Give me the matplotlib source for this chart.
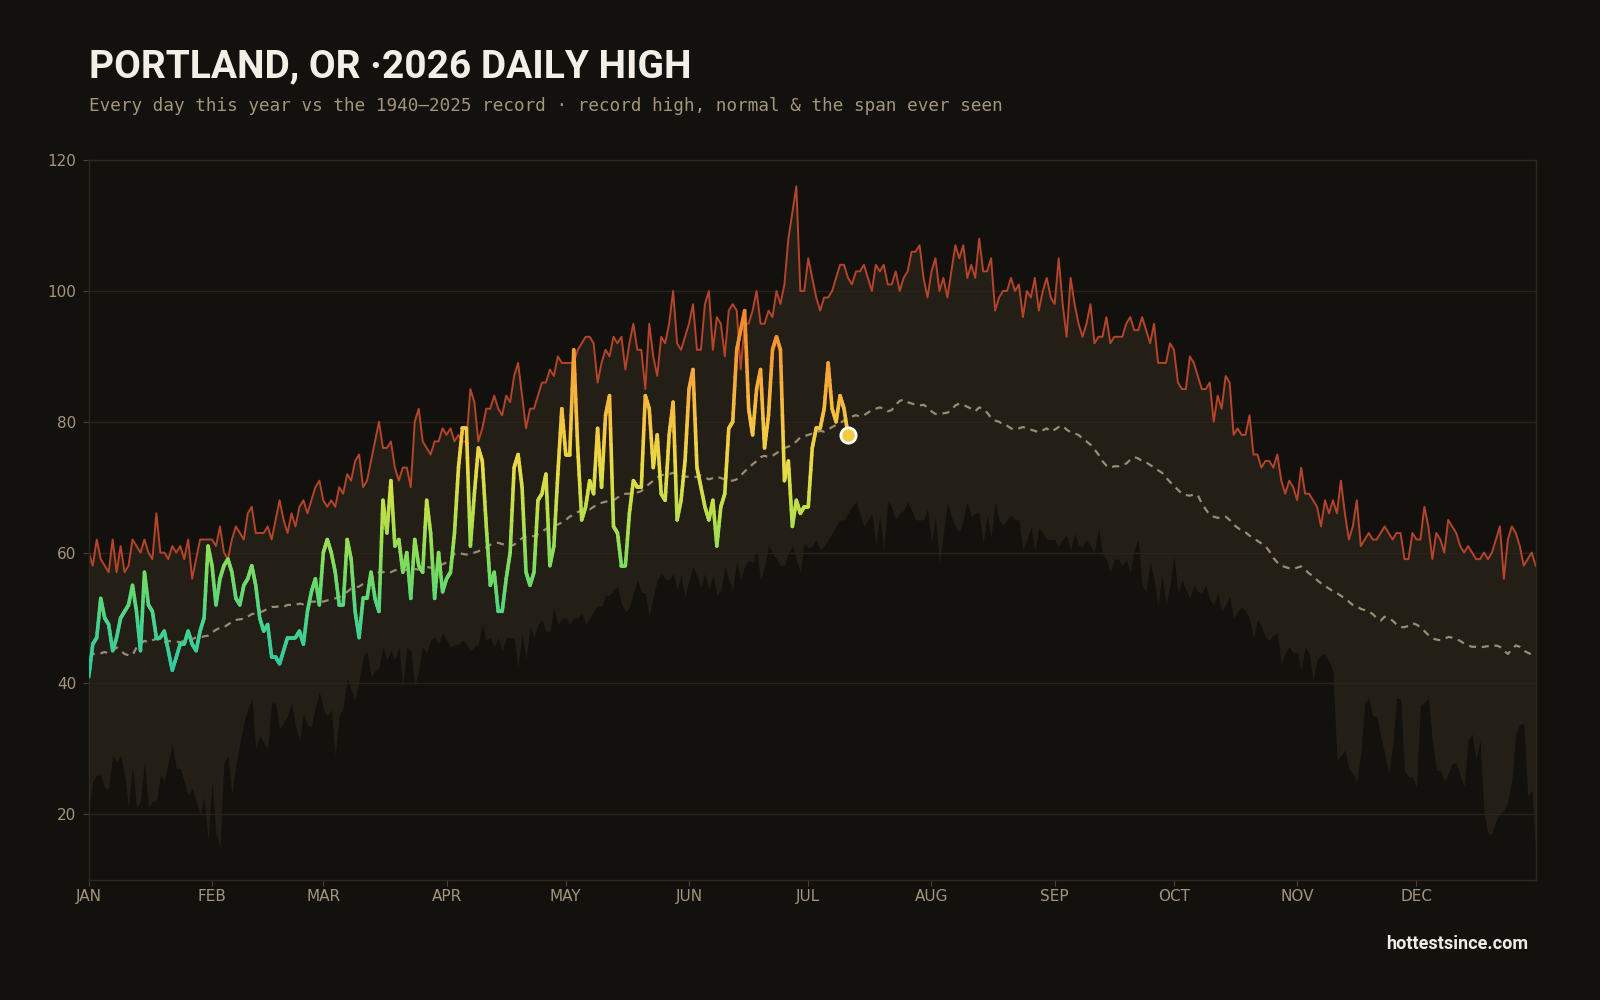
import numpy as np
import matplotlib.pyplot as plt
from matplotlib.collections import LineCollection
from matplotlib.colors import LinearSegmentedColormap

# Daily highs in F, index 0 = Jan 1
record_high = [
    60, 58, 62, 59, 58, 57, 62, 57, 61, 57,
    58, 62, 61, 60, 62, 60, 59, 66, 60, 60,
    59, 61, 60, 61, 59, 62, 56, 59, 62, 62,
    62, 62, 61, 64, 60, 59, 62, 64, 63, 62,
    66, 67, 63, 63, 63, 64, 62, 65, 68, 65,
    63, 66, 64, 67, 68, 66, 68, 70, 71, 68,
    67, 68, 67, 70, 69, 72, 71, 74, 75, 70,
    71, 74, 77, 80, 76, 76, 77, 73, 71, 73,
    73, 70, 80, 82, 77, 76, 75, 77, 77, 79,
    78, 79, 77, 78, 77, 77, 85, 83, 77, 79,
    82, 82, 84, 82, 81, 84, 83, 87, 89, 84,
    79, 82, 82, 84, 86, 86, 88, 87, 90, 89,
    89, 89, 89, 91, 92, 93, 93, 92, 86, 89,
    91, 90, 93, 92, 93, 88, 92, 95, 91, 91,
    85, 95, 90, 87, 93, 92, 95, 100, 92, 91,
    93, 95, 98, 91, 91, 98, 100, 91, 96, 95,
    90, 97, 98, 97, 88, 95, 95, 97, 100, 95,
    95, 97, 96, 100, 98, 101, 108, 112, 116, 100,
    100, 105, 102, 99, 97, 99, 99, 100, 102, 104,
    104, 102, 101, 103, 103, 104, 102, 100, 104, 103,
    104, 101, 101, 103, 100, 102, 103, 106, 106, 107,
    102, 99, 103, 105, 100, 102, 99, 103, 107, 105,
    107, 102, 104, 102, 108, 103, 103, 105, 97, 99,
    100, 100, 102, 100, 101, 96, 100, 99, 102, 97,
    100, 102, 99, 98, 105, 98, 93, 102, 98, 95,
    93, 95, 98, 92, 93, 93, 96, 92, 93, 93,
    93, 95, 96, 94, 94, 96, 94, 92, 95, 89,
    89, 89, 92, 91, 86, 85, 85, 90, 89, 87,
    85, 85, 86, 80, 84, 82, 87, 86, 78, 79,
    78, 78, 81, 75, 75, 73, 74, 74, 73, 75,
    71, 69, 71, 70, 68, 73, 69, 69, 68, 67,
    64, 68, 66, 68, 66, 71, 66, 62, 64, 68,
    61, 62, 63, 62, 62, 63, 64, 63, 62, 63,
    63, 59, 59, 63, 62, 62, 67, 64, 59, 63,
    62, 60, 65, 64, 63, 61, 60, 61, 60, 59,
    59, 60, 59, 60, 62, 64, 56, 62, 64, 63,
    61, 58, 59, 60, 58,
]

normal_high = [
    44.0, 44.5, 44.5, 44.6, 44.8, 44.6, 45.0, 45.5, 45.0, 44.5,
    44.3, 44.3, 45.5, 46.0, 46.5, 46.3, 46.6, 46.8, 46.5, 46.3,
    46.5, 46.4, 46.4, 46.3, 46.5, 46.6, 46.8, 47.0, 47.0, 47.2,
    47.3, 47.8, 48.2, 48.5, 48.6, 49.0, 49.4, 49.7, 49.8, 49.9,
    50.2, 50.6, 50.7, 50.8, 51.1, 51.4, 51.7, 51.7, 51.8, 51.7,
    52.0, 52.0, 52.0, 52.2, 52.1, 52.3, 52.5, 52.5, 52.6, 52.5,
    52.7, 52.8, 53.0, 53.2, 53.6, 54.0, 54.5, 54.7, 54.8, 55.2,
    55.4, 56.0, 56.5, 57.0, 57.0, 57.2, 57.0, 57.3, 57.3, 57.2,
    57.4, 57.3, 57.5, 57.4, 57.6, 57.8, 57.7, 57.8, 58.0, 58.2,
    58.5, 59.0, 59.8, 60.0, 59.8, 59.7, 59.8, 60.0, 60.2, 60.5,
    60.8, 61.2, 61.4, 61.5, 61.3, 61.2, 61.0, 61.2, 61.8, 62.2,
    62.4, 62.6, 62.5, 62.8, 63.2, 63.6, 64.0, 64.1, 64.3, 64.6,
    65.0, 65.5, 65.8, 66.2, 66.4, 66.5, 66.6, 67.0, 67.4, 67.6,
    67.8, 67.8, 68.0, 68.4, 68.8, 69.0, 69.0, 69.0, 69.2, 69.4,
    70.0, 70.5, 71.0, 71.5, 71.8, 72.0, 72.0, 72.2, 72.0, 71.8,
    71.6, 71.6, 71.5, 71.6, 71.8, 71.5, 71.2, 71.4, 71.6, 71.4,
    71.2, 71.0, 71.0, 71.2, 71.8, 72.4, 73.0, 73.5, 74.0, 74.6,
    74.8, 74.6, 74.8, 75.2, 75.6, 76.0, 76.2, 76.5, 77.0, 77.6,
    77.8, 78.0, 78.2, 78.4, 78.6, 78.5, 78.8, 79.2, 79.5, 79.8,
    80.2, 80.6, 80.8, 81.0, 80.8, 81.0, 81.4, 81.8, 82.0, 82.2,
    82.0, 81.6, 81.8, 82.6, 83.2, 83.4, 83.0, 82.8, 82.6, 82.5,
    82.6, 82.2, 81.6, 81.2, 81.2, 81.3, 81.4, 81.8, 82.5, 82.8,
    82.6, 82.3, 82.0, 81.6, 82.2, 82.0, 81.4, 80.6, 80.2, 80.0,
    79.6, 79.4, 79.0, 78.8, 79.0, 79.2, 79.0, 78.8, 78.6, 78.4,
    78.7, 79.0, 78.5, 78.8, 79.2, 79.4, 78.8, 78.4, 78.2, 78.0,
    77.4, 77.0, 76.5, 75.8, 75.0, 74.0, 73.3, 73.0, 73.2, 73.2,
    73.5, 73.6, 74.2, 74.6, 74.4, 74.0, 73.8, 73.4, 73.0, 72.6,
    72.2, 71.5, 70.8, 70.2, 69.6, 69.0, 68.8, 68.7, 68.9, 68.8,
    67.5, 66.6, 65.8, 65.5, 65.3, 65.5, 65.5, 65.0, 64.3, 63.8,
    63.4, 63.1, 62.6, 62.2, 61.8, 61.4, 61.0, 60.2, 59.2, 58.5,
    58.0, 57.8, 57.6, 57.5, 57.7, 57.9, 57.4, 56.8, 56.4, 55.8,
    55.3, 54.9, 54.5, 54.1, 53.8, 53.4, 53.0, 52.5, 52.0, 51.8,
    51.4, 51.2, 51.0, 50.6, 50.0, 49.6, 50.2, 50.0, 49.6, 49.0,
    48.6, 48.6, 48.8, 49.2, 49.0, 48.6, 48.0, 47.4, 46.9, 46.7,
    46.6, 46.8, 47.1, 47.0, 46.8, 46.5, 46.1, 45.8, 45.6, 45.6,
    45.5, 45.6, 45.7, 45.6, 45.8, 45.6, 45.0, 44.5, 45.2, 45.8,
    45.6, 45.0, 44.7, 44.4, 44.2,
]

# lowest daily high ever seen (bottom of the span)
record_low = [
    21, 25, 26, 26, 24, 24, 29, 28, 29, 26,
    21, 27.5, 21, 22, 28, 21, 22, 22, 26, 25,
    28, 30.6, 27, 27, 25, 23, 24, 22, 20, 22.6,
    16, 25, 17, 15, 28, 29, 23, 27.5, 30.8, 34,
    36, 37.7, 30, 32, 31, 30, 37, 37, 33, 34,
    35, 37, 33.4, 31.3, 35.4, 33.6, 33.4, 36.4, 38.7, 36,
    35, 36, 29, 35, 36.4, 40.8, 39, 37.4, 40.5, 44,
    45, 41, 42, 42.3, 45.6, 43.6, 45, 43.6, 45.6, 39.5,
    45.6, 45, 39.5, 42, 45.6, 44.6, 46.6, 47, 46, 47.7,
    46.6, 45.6, 45.9, 46, 46.6, 46, 45, 45.6, 46, 49,
    46.6, 47, 45.6, 47, 45, 47, 47, 47, 42.5, 47.7,
    43.6, 48.7, 47, 49, 49.7, 48, 48, 51.5, 49, 50,
    50, 49, 50, 50, 50.7, 49, 50, 51, 52, 51.7,
    53.5, 53.5, 54.3, 54.8, 52.2, 51, 51.5, 53.8, 55.8, 54,
    53.8, 50.2, 53.3, 55.8, 56.8, 56, 55.8, 56.8, 54.3, 56.6,
    53.3, 55.8, 57.9, 56.3, 54.8, 56.8, 54.3, 56.6, 53.5, 54.3,
    57.9, 55.8, 54.3, 58.6, 56, 57.9, 58.9, 58.4, 60.4, 55.8,
    57.9, 61, 60, 59, 58, 58, 60, 61, 59, 57,
    61.4, 60.7, 61, 62, 60.4, 61, 62, 63, 64, 65,
    65, 66, 67, 67.8, 66, 64, 65, 66, 61.4, 65.7,
    60.4, 67.8, 67, 65, 66, 66.5, 67.8, 66.5, 65, 65,
    65, 66.7, 61.4, 65.5, 58.3, 63, 67.8, 65.5, 64, 63.2,
    65, 67.8, 65.5, 66, 66, 61.4, 65.7, 62.4, 67.8, 65,
    64.2, 65, 65.7, 65, 65, 60.4, 62, 64, 60.4, 63.7,
    63, 62, 62, 62, 61, 62, 62.6, 60.4, 63, 61,
    61, 62, 61, 60, 63.7, 60, 59, 57, 59, 59,
    58, 59, 57, 60.4, 62, 55, 54, 58.6, 55.8, 52,
    56.6, 52, 55, 59.6, 53.8, 55.8, 54.3, 53, 55, 54,
    53.8, 55, 52.8, 52, 53.8, 51, 52, 53.3, 50, 51,
    51.7, 51, 50, 47, 49.7, 48.7, 47, 46.6, 47.4, 47.6,
    43, 44.6, 45.6, 44.6, 44.8, 42, 45.6, 44.6, 40.5, 43.6,
    44.3, 44.6, 43.3, 41.8, 28.3, 29, 29.8, 27, 26.2, 25,
    29.3, 37, 37.7, 35, 35, 32, 29.3, 26.2, 30.3, 37.7,
    37.7, 26.7, 25.7, 25.7, 24.2, 36.7, 37, 37.7, 31.3, 26.7,
    26.7, 25, 26.2, 27.8, 27.8, 26, 24.2, 31.3, 32.3, 28.3,
    31.3, 20, 17, 17, 19, 20, 20.6, 22, 25.2, 32.3,
    33.8, 33.8, 22.7, 23.7, 14.5,
]

# this year so far, Jan 1 .. Jul 11
high_2026 = [
    41, 46, 47, 53, 50, 49, 45, 47, 50, 51,
    52, 55, 51, 45, 57, 52, 51, 47, 47, 48,
    45, 42, 44, 46, 46, 48, 46, 45, 48, 50,
    61, 58, 52, 56, 58, 59, 57, 53, 52, 55,
    56, 58, 55, 50, 48, 49, 44, 44, 43, 45,
    47, 47, 47, 48, 46, 51, 54, 56, 52, 60,
    62, 60, 57, 52, 52, 62, 59, 51, 47, 53,
    53, 57, 53, 51, 68, 63, 71, 61, 62, 57,
    60, 53, 62, 58, 57, 68, 63, 53, 60, 54,
    56, 57, 63, 73, 79, 79, 61, 69, 76, 74,
    64, 55, 57, 51, 51, 56, 60, 73, 75, 70,
    57, 55, 57, 68, 69, 72, 58, 61, 72, 82,
    75, 75, 91, 76, 65, 67, 71, 69, 79, 70,
    81, 84, 64, 63, 58, 58, 66, 71, 70, 70,
    84, 82, 73, 78, 69, 68, 78, 83, 65, 68,
    74, 85, 88, 73, 70, 67, 65, 68, 61, 67,
    69, 79, 80, 91, 94, 97, 82, 78, 85, 88,
    76, 81, 91, 93, 91, 71, 74, 64, 68, 66,
    67, 67, 76, 79, 79, 82, 89, 82, 80, 84,
    82, 78,
]

month_days = [0, 31, 59, 90, 120, 151, 181, 212, 243, 273, 304, 334]
month_labels = ['JAN', 'FEB', 'MAR', 'APR', 'MAY', 'JUN',
                'JUL', 'AUG', 'SEP', 'OCT', 'NOV', 'DEC']
y_ticks = [20, 40, 60, 80, 100, 120]

BG = '#13110d'
BAND = '#231e16'
GRID = '#2a231c'
TXT = '#a3957c'

temp_cmap = LinearSegmentedColormap.from_list('temp', [
    (0.00, '#2bc4a8'), (0.15, '#46d38e'), (0.28, '#74dc62'),
    (0.42, '#b5e04b'), (0.55, '#e8dc45'), (0.65, '#f5c842'),
    (0.78, '#f6a93a'), (1.00, '#ef7a2a')])
norm = plt.Normalize(40, 100)

fig = plt.figure(figsize=(16, 10), dpi=100, facecolor=BG)
ax = fig.add_axes([0.0555, 0.1204, 0.9043, 0.7194])
ax.set_facecolor(BG)

days = np.arange(len(record_high))
ax.fill_between(days, record_low, record_high, color=BAND, lw=0, zorder=1)
ax.plot(days, record_high, color='#b4442a', lw=1.4, zorder=2)
ax.plot(days, normal_high, color='#998c75', lw=1.6, ls=(0, (3.2, 2.6)), zorder=2)

# 2026 line, each day-to-day step split up so the colour follows the value
x26 = np.arange(len(high_2026))
y26 = np.array(high_2026, dtype=float)
segs = []
vals = []
for i in range(len(x26) - 1):
    xs = np.linspace(x26[i], x26[i + 1], 9)
    ys = np.linspace(y26[i], y26[i + 1], 9)
    for k in range(8):
        segs.append([(xs[k], ys[k]), (xs[k + 1], ys[k + 1])])
        vals.append((ys[k] + ys[k + 1]) / 2)
lc = LineCollection(segs, cmap=temp_cmap, norm=norm, linewidth=2.6,
                    capstyle='round', joinstyle='round', zorder=3)
lc.set_array(np.array(vals))
ax.add_collection(lc)
ax.plot(x26[-1], y26[-1], 'o', ms=11, mfc=temp_cmap(norm(y26[-1])),
        mec='white', mew=2, zorder=4)

ax.set_xlim(0, 364)
ax.set_ylim(10, 120)
ax.set_yticks(y_ticks)
ax.set_xticks(month_days)
ax.set_xticklabels(month_labels)
ax.set_axisbelow('line')
ax.grid(axis='y', color=GRID, lw=1)
ax.tick_params(colors=TXT, labelsize=11, length=4, pad=5)
ax.tick_params(axis='x', pad=3)
ax.tick_params(axis='both', color='#4a4036')
for s in ax.spines.values():
    s.set_color('#2e2821')
    s.set_linewidth(1)

fig.text(0.0556, 0.923, 'PORTLAND, OR \u00b72026 DAILY HIGH', color='#f4efe6',
         fontsize=28, fontweight='bold', family='Roboto', va='baseline')
fig.text(0.0556, 0.894,
         'Every day this year vs the 1940\u20132025 record \u00b7 record high, normal & the span ever seen',
         color=TXT, fontsize=12.7, family='DejaVu Sans Mono', va='center')
fig.text(0.955, 0.056, 'hottestsince.com', color='#f0ece4', fontsize=13,
         fontweight='bold', family='Roboto', ha='right', va='center')

fig.savefig('out.png', dpi=100, facecolor=BG)
